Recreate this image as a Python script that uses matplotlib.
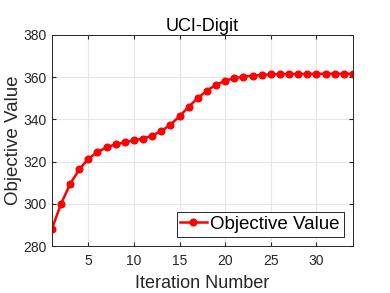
import numpy as np
import matplotlib
matplotlib.use("Agg")
import matplotlib.pyplot as plt

plt.rcParams['font.family'] = ['Liberation Sans', 'DejaVu Sans']

# objective value per iteration
iterations = np.arange(1, 35)
objective = [288.1, 300.0, 309.4, 316.3, 321.4, 324.5, 326.8, 328.2, 329.1, 330.1,
             330.9, 332.3, 334.5, 337.5, 341.5, 346.0, 350.1, 353.6, 356.4, 358.3,
             359.5, 360.2, 360.7, 361.0, 361.3, 361.4, 361.5, 361.5, 361.5, 361.6,
             361.6, 361.6, 361.6, 361.6]

fig = plt.figure(figsize=(3.9, 2.93), dpi=100)
ax = fig.add_axes([0.133, 0.160, 0.772, 0.721])
ax.plot(iterations, objective, color='red', marker='o', markersize=4.8,
        linewidth=1.8, label='Objective Value')
ax.set_xlim(1, 34)
ax.set_ylim(280, 380)
ax.set_xticks([5, 10, 15, 20, 25, 30])
ax.set_yticks([280, 300, 320, 340, 360, 380])
ax.grid(True, color='#e6e6e6', linewidth=0.8)
ax.set_axisbelow(True)
ax.tick_params(direction='in', labelsize=10, colors='#262626', length=3, pad=4,
               top=True, right=True)
ax.tick_params(axis='x', pad=6)
for s in ax.spines.values():
    s.set_color('#262626')
    s.set_linewidth(0.7)
ax.set_title('UCI-Digit', fontsize=13, pad=3)
ax.set_xlabel('Iteration Number', fontsize=13, color='#262626', labelpad=5)
ax.set_ylabel('Objective Value', fontsize=13.5, color='#262626', labelpad=1)
leg = ax.legend(loc='lower right', fontsize=13.5, fancybox=False, framealpha=1,
                edgecolor='#262626', borderpad=0.2, handlelength=1.4,
                handletextpad=0.2, borderaxespad=0.5)
leg.get_frame().set_linewidth(0.7)

fig.savefig('out.png', dpi=100)
